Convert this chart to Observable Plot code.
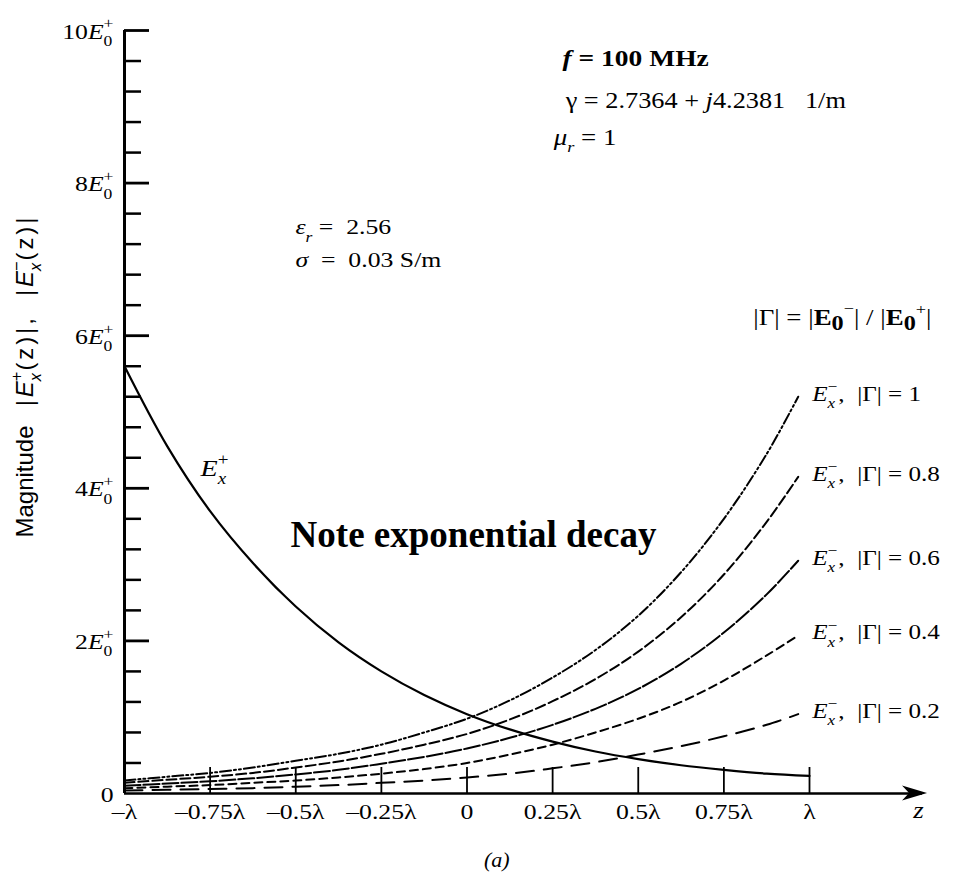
<!DOCTYPE html>
<html><head><meta charset="utf-8">
<script src="https://cdn.jsdelivr.net/npm/d3@7"></script>
<script src="https://cdn.jsdelivr.net/npm/@observablehq/plot@0.6"></script>
<style>
html,body{margin:0;padding:0;background:#fff;}
#chart svg{display:block;}
#caption{font-family:"Liberation Serif",serif;font-style:italic;font-size:22px;height:30px;line-height:30px;padding-left:484px;color:#000;}
</style></head><body>
<div id="chart"></div>
<div id="caption">(a)</div>
<script>
// ---- data ----
const zPlus = [-1, -0.875, -0.75, -0.625, -0.5, -0.375, -0.25, -0.125, 0, 0.125, 0.25, 0.375, 0.5, 0.625, 0.75, 0.875, 1];
const ePlus = [5.6, 4.55, 3.7, 3.02, 2.45, 1.98, 1.6, 1.29, 1.04, 0.84, 0.68, 0.55, 0.45, 0.37, 0.31, 0.26, 0.23];

const zMinus = [-1, -0.875, -0.75, -0.625, -0.5, -0.375, -0.25, -0.125, 0, 0.125, 0.25, 0.375, 0.5, 0.625, 0.75, 0.875, 0.967];
const eMinus10 = [0.17, 0.22, 0.27, 0.34, 0.43, 0.52, 0.64, 0.80, 0.98, 1.22, 1.52, 1.88, 2.33, 2.90, 3.60, 4.45, 5.20];
const eMinus08 = [0.14, 0.18, 0.22, 0.27, 0.34, 0.42, 0.52, 0.64, 0.78, 0.97, 1.21, 1.50, 1.86, 2.31, 2.87, 3.56, 4.15];
const eMinus06 = [0.10, 0.13, 0.16, 0.20, 0.25, 0.31, 0.39, 0.48, 0.59, 0.73, 0.90, 1.11, 1.37, 1.70, 2.11, 2.61, 3.05];
const eMinus04 = [0.07, 0.09, 0.11, 0.14, 0.17, 0.21, 0.26, 0.32, 0.40, 0.51, 0.64, 0.80, 0.98, 1.20, 1.48, 1.81, 2.07];
const eMinus02 = [0.04, 0.05, 0.06, 0.07, 0.09, 0.11, 0.14, 0.17, 0.21, 0.26, 0.33, 0.41, 0.51, 0.62, 0.75, 0.90, 1.04];
const gammaValues = ["1", "0.8", "0.6", "0.4", "0.2"];

const yTickValues = [0, 2, 4, 6, 8, 10];
const yTickLabels = ["0",
  "2<i>E</i><sub>0</sub><bsup>+</bsup>",
  "4<i>E</i><sub>0</sub><bsup>+</bsup>",
  "6<i>E</i><sub>0</sub><bsup>+</bsup>",
  "8<i>E</i><sub>0</sub><bsup>+</bsup>",
  "10<i>E</i><sub>0</sub><bsup>+</bsup>"];
const xTickValues = [-1, -0.75, -0.5, -0.25, 0, 0.25, 0.5, 0.75, 1];
const xTickLabels = ["–λ", "–0.75λ", "–0.5λ", "–0.25λ", "0", "0.25λ", "0.5λ", "0.75λ", "λ"];

// ---- layout / style ----
const W = 961, H = 845, ML = 124, MR = 152, MT = 30, MB = 52;
const innerW = W - ML - MR, innerH = H - MT - MB;
const serif = "Liberation Serif";
const sans = "Liberation Sans";
const dashes = ["11,3,2,3,2,3", "10,4", "16,3", "8,5", "18,10"];
const minusSeries = [eMinus10, eMinus08, eMinus06, eMinus04, eMinus02];
const xAxisEnd = 1.33;

const minorTicks = d3.range(1, 26).filter(i => i % 5 !== 0).map(i => i * 0.4);

const marks = [];
// axes
marks.push(Plot.ruleY([0], {x1: -1, x2: xAxisEnd, stroke: "#000", strokeWidth: 2.6}));
marks.push(Plot.ruleX([-1], {y1: 0, y2: 10, stroke: "#000", strokeWidth: 3}));
marks.push(Plot.tickY(yTickValues.slice(1), {y: d => d, stroke: "#000", strokeWidth: 2.8, insetRight: innerW - 25}));
marks.push(Plot.tickY(minorTicks, {y: d => d, stroke: "#000", strokeWidth: 2.5, insetRight: innerW - 17}));
marks.push(Plot.tickX(xTickValues.slice(1), {x: d => d, stroke: "#000", strokeWidth: 1.8, insetTop: innerH - 26}));

// curves
marks.push(Plot.line(zPlus.map((z, i) => ({z, v: ePlus[i]})), {x: "z", y: "v", curve: "catmull-rom", stroke: "#000", strokeWidth: 2.2}));
minusSeries.forEach((s, k) => {
  marks.push(Plot.line(zMinus.map((z, i) => ({z, v: s[i]})), {x: "z", y: "v", curve: "catmull-rom", stroke: "#000", strokeWidth: 2, strokeDasharray: dashes[k]}));
});

// tick labels
marks.push(Plot.text(yTickValues, {y: d => d, frameAnchor: "left", text: (d, i) => yTickLabels[i], textAnchor: "end", dx: -11, dy: 1, fontFamily: serif, fontSize: 22, fill: "#000"}));
marks.push(Plot.text(xTickValues, {x: d => d, frameAnchor: "bottom", text: (d, i) => xTickLabels[i], dy: 25, fontFamily: serif, fontSize: 22, fill: "#000"}));
marks.push(Plot.text(["z"], {x: 1.318, frameAnchor: "bottom", text: d => d, dy: 24, fontFamily: serif, fontSize: 23, fontStyle: "italic", fill: "#000"}));

// curve labels
marks.push(Plot.text(gammaValues.map((g, k) => ({z: zMinus[zMinus.length - 1], v: minusSeries[k][minusSeries[k].length - 1], t: `<i>E</i><sup>−</sup><bsub><i>x</i></bsub>,  |Γ| = ${g}`})),
  {x: "z", y: "v", text: "t", textAnchor: "start", dx: 14, dy: -3, fontFamily: serif, fontSize: 21.5, fill: "#000"}));
marks.push(Plot.text([0], {x: -0.778, y: 4.26, text: () => "<i>E</i><sup>+</sup><bsub><i>x</i></bsub>", textAnchor: "start", fontFamily: serif, fontSize: 24, fill: "#000"}));

// annotations
marks.push(Plot.text([0], {x: 0.279, y: 9.63, text: () => "<i>f</i> = 100 MHz", textAnchor: "start", fontFamily: serif, fontSize: 23.5, fontWeight: "bold", fill: "#000"}));
marks.push(Plot.text([0], {x: 0.288, y: 9.08, text: () => "γ = 2.7364 + <i>j</i>4.2381   1/m", textAnchor: "start", fontFamily: serif, fontSize: 22.5, fill: "#000"}));
marks.push(Plot.text([0], {x: 0.253, y: 8.60, text: () => "<i>μ</i><sub><i>r</i></sub> = 1", textAnchor: "start", fontFamily: serif, fontSize: 23, fill: "#000"}));
marks.push(Plot.text([0], {x: -0.501, y: 7.42, text: () => "<i>ε</i><sub><i>r</i></sub> =  2.56", textAnchor: "start", fontFamily: serif, fontSize: 22, fill: "#000"}));
marks.push(Plot.text([0], {x: -0.501, y: 6.99, text: () => "<i>σ</i>  =  0.03 S/m", textAnchor: "start", fontFamily: serif, fontSize: 22, fill: "#000"}));
marks.push(Plot.text([0], {x: 0.836, y: 6.24, text: () => "|Γ| = |<b>E</b><lsub><b>0</b></lsub><sup>−</sup>| / |<b>E</b><lsub><b>0</b></lsub><sup>+</sup>|", textAnchor: "start", fontFamily: serif, fontSize: 23, fill: "#000"}));
marks.push(Plot.text([0], {x: -0.515, y: 3.38, text: () => "Note exponential decay", textAnchor: "start", fontFamily: serif, fontSize: 37, fontWeight: "bold", fill: "#000"}));
marks.push(Plot.text([0], {x: -1, y: 3.355, dx: -99, rotate: -90, text: () => "Magnitude<w>  |</w><i>E</i><sup>+</sup><bsub><i>x</i></bsub><w>(z)|,  |</w><i>E</i><sup>−</sup><bsub><i>x</i></bsub><w>(z)|</w>", textAnchor: "start", fontFamily: sans, fontSize: 24, fill: "#000"}));

const chart = Plot.plot({
  width: W, height: H,
  marginLeft: ML, marginRight: MR, marginTop: MT, marginBottom: MB,
  x: {domain: [-1, 1], axis: null},
  y: {domain: [0, 10], axis: null},
  style: {background: "#fff", color: "#000", overflow: "visible"},
  marks
});
document.getElementById("chart").append(chart);

// ---- rich text (sub/superscripts, italics) ----
const svgNS = "http://www.w3.org/2000/svg";
const TAGS = /(<\/?(?:i|b|sub|sup|bsub|bsup|lsub|w)>)/;
function richify(t) {
  const raw = t.textContent;
  t.style.whiteSpace = "pre";
  if (!raw.includes("<")) return;
  const base = parseFloat(getComputedStyle(t).fontSize) || 16;
  const parts = raw.split(TAGS).filter(s => s !== "");
  while (t.firstChild) t.removeChild(t.firstChild);
  const st = {i: 0, b: 0, sub: 0, sup: 0, bsub: 0, bsup: 0, lsub: 0, w: 0};
  let cur = 0, prev = null, pendingGap = 0;
  for (const p of parts) {
    const m = p.match(/^<(\/?)(i|b|sub|sup|bsub|bsup|lsub|w)>$/);
    if (m) { st[m[2]] += m[1] ? -1 : 1; continue; }
    const ts = document.createElementNS(svgNS, "tspan");
    ts.textContent = p;
    if (st.i) ts.setAttribute("font-style", "italic");
    if (st.b) ts.setAttribute("font-weight", "bold");
    if (st.w) ts.setAttribute("letter-spacing", (0.12 * base).toFixed(1));
    let target = 0, size = 0, back = false;
    if (st.lsub) { target = 0.22 * base; size = 0.9; }
    if (st.sub || st.bsub) { target = 0.34 * base; size = 0.68; back = st.bsub > 0; }
    if (st.sup || st.bsup) { target = -0.46 * base; size = 0.68; back = st.bsup > 0; }
    if (size) ts.setAttribute("font-size", (size * base).toFixed(1));
    if (target !== cur) { ts.setAttribute("dy", (target - cur).toFixed(2)); cur = target; }
    t.appendChild(ts);
    if (back && prev) {
      const pw = prev.getComputedTextLength();
      ts.setAttribute("dx", (-pw).toFixed(2));
      const cw = ts.getComputedTextLength();
      pendingGap = Math.max(0, pw - cw) + 1;
    } else if (pendingGap) {
      ts.setAttribute("dx", pendingGap.toFixed(2));
      pendingGap = 0;
    }
    prev = ts;
  }
}
chart.querySelectorAll("text").forEach(t => {
  const isNote = t.textContent.startsWith("Note");
  richify(t);
  const cs = getComputedStyle(t);
  if (!isNote && cs.fontFamily.includes("Serif")) {
    const tr = t.getAttribute("transform");
    if (tr && tr.includes("translate")) {
      t.setAttribute("transform", tr + " scale(1.17,1)");
    } else if (t.hasAttribute("x")) {
      const x = t.getAttribute("x");
      t.removeAttribute("x");
      t.setAttribute("transform", `translate(${x},0) scale(1.17,1)`);
    }
  }
});

// ---- arrow head on the z axis ----
const X = chart.scale("x"), Y = chart.scale("y");
const tipX = X.apply(xAxisEnd) + 5, y0 = Y.apply(0);
const head = document.createElementNS(svgNS, "path");
head.setAttribute("d", `M${tipX},${y0} L${tipX - 25},${y0 - 7.5} L${tipX - 18},${y0} L${tipX - 25},${y0 + 7.5} Z`);
head.setAttribute("fill", "#000");
chart.appendChild(head);
</script></body></html>
